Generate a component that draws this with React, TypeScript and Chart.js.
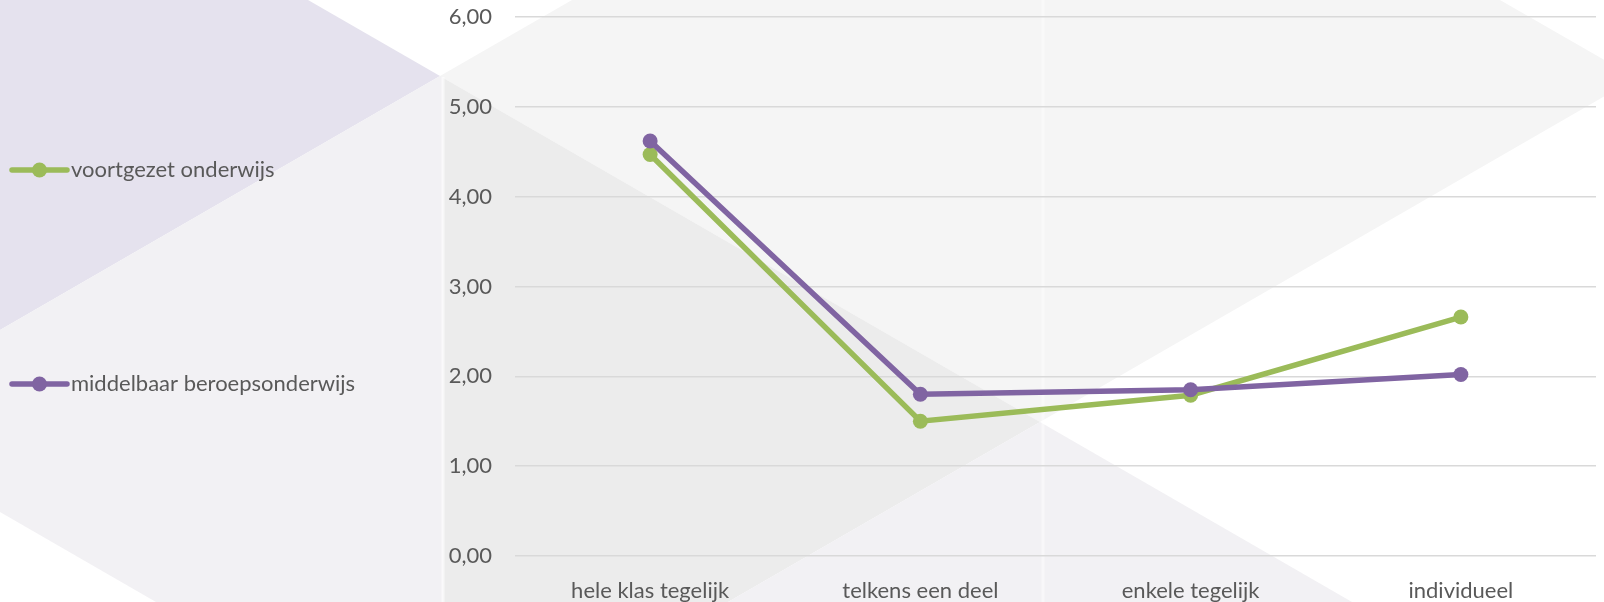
import React, { useEffect, useRef } from 'react';
import { Chart, registerables } from 'chart.js';

Chart.register(...registerables);

const categories = ['hele klas tegelijk', 'telkens een deel', 'enkele tegelijk', 'individueel'];
const voortgezetOnderwijs = [4.47, 1.5, 1.79, 2.66];
const middelbaarBeroepsonderwijs = [4.62, 1.8, 1.85, 2.02];
const seriesLabels = ['voortgezet onderwijs', 'middelbaar beroepsonderwijs'];
const seriesColors = ['#9bbb59', '#8064a2'];
const yMin = 0;
const yMax = 6;
const yStep = 1;

const FONT = 'Lato, "Open Sans", sans-serif';
const TEXT = '#595959';

const backgroundPlugin = {
  id: 'officeBackground',
  beforeDraw(chart: any) {
    const { ctx, width, height } = chart;
    const poly = (pts: number[][], color: string) => {
      ctx.beginPath();
      ctx.moveTo(pts[0][0], pts[0][1]);
      for (let i = 1; i < pts.length; i++) ctx.lineTo(pts[i][0], pts[i][1]);
      ctx.closePath();
      ctx.fillStyle = color;
      ctx.fill();
    };
    ctx.save();
    ctx.fillStyle = '#ffffff';
    ctx.fillRect(0, 0, width, height);
    poly([[0, 0], [308, 0], [440, 76], [0, 330]], '#e5e2ee');
    poly([[0, 330], [440, 76], [443, 76], [443, height], [156, height], [0, 512]], '#f2f1f4');
    poly([[440, 76], [572, 0], [1500, 0], [1636, 78], [1040, 422]], '#f5f5f5');
    poly([[443, 77.7], [1040, 422], [728, height], [443, height]], '#ececec');
    poly([[728, height], [1040, 422], [1352, height]], '#f2f1f4');
    ctx.strokeStyle = 'rgba(255,255,255,0.6)';
    ctx.lineWidth = 3;
    ctx.beginPath();
    ctx.moveTo(443, 77);
    ctx.lineTo(443, height);
    ctx.stroke();
    ctx.strokeStyle = 'rgba(255,255,255,0.45)';
    ctx.beginPath();
    ctx.moveTo(1043, 0);
    ctx.lineTo(1043, height);
    ctx.stroke();
    ctx.restore();
  },
};

const legendPlugin = {
  id: 'excelLegend',
  afterDraw(chart: any, _args: any, opts: any) {
    const { ctx } = chart;
    ctx.save();
    chart.data.datasets.forEach((ds: any, i: number) => {
      const y = opts.rows[i];
      ctx.strokeStyle = ds.borderColor;
      ctx.lineWidth = 5.5;
      ctx.lineCap = 'round';
      ctx.beginPath();
      ctx.moveTo(opts.lineStart, y);
      ctx.lineTo(opts.lineEnd, y);
      ctx.stroke();
      ctx.fillStyle = ds.borderColor;
      ctx.beginPath();
      ctx.arc((opts.lineStart + opts.lineEnd) / 2, y, 7.5, 0, Math.PI * 2);
      ctx.fill();
      ctx.fillStyle = TEXT;
      ctx.font = `22px ${FONT}`;
      ctx.textBaseline = 'middle';
      ctx.textAlign = 'left';
      ctx.fillText(ds.label, opts.textX, y);
    });
    ctx.restore();
  },
};

export default function App() {
  const ref = useRef<HTMLCanvasElement | null>(null);
  useEffect(() => {
    document.body.style.margin = '0';
    const canvas = ref.current;
    if (!canvas) return;
    const chart = new Chart(canvas, {
      type: 'line',
      data: {
        labels: categories,
        datasets: [
          {
            label: seriesLabels[0],
            data: voortgezetOnderwijs,
            borderColor: seriesColors[0],
            backgroundColor: seriesColors[0],
            borderWidth: 5.5,
            pointRadius: 7.5,
            pointBorderWidth: 0,
            pointBackgroundColor: seriesColors[0],
            tension: 0,
            order: 1,
          },
          {
            label: seriesLabels[1],
            data: middelbaarBeroepsonderwijs,
            borderColor: seriesColors[1],
            backgroundColor: seriesColors[1],
            borderWidth: 5.5,
            pointRadius: 7.5,
            pointBorderWidth: 0,
            pointBackgroundColor: seriesColors[1],
            tension: 0,
            order: 0,
          },
        ],
      },
      options: {
        animation: false,
        responsive: false,
        layout: { padding: { left: 415, right: 8, top: 17, bottom: 0 } },
        plugins: {
          legend: { display: false },
          tooltip: { enabled: false },
          excelLegend: { rows: [170, 384], lineStart: 12, lineEnd: 67, textX: 71 },
        } as any,
        scales: {
          x: {
            offset: true,
            grid: { display: false },
            border: { display: false },
            ticks: { color: TEXT, font: { family: FONT, size: 22 }, padding: 14, maxRotation: 0 },
            afterFit: (scale: any) => {
              scale.height = 46;
            },
          },
          y: {
            min: yMin,
            max: yMax,
            grid: { color: '#d9d9d9', lineWidth: 1.5, drawTicks: false },
            border: { display: false },
            ticks: {
              stepSize: yStep,
              color: TEXT,
              font: { family: FONT, size: 22 },
              padding: 23,
              callback: (v: any) => Number(v).toFixed(2).replace('.', ','),
            },
            afterFit: (scale: any) => {
              scale.width = 100;
              scale.paddingTop = 0;
              scale.paddingBottom = 0;
            },
          },
        },
      },
      plugins: [backgroundPlugin, legendPlugin],
    });
    return () => chart.destroy();
  }, []);
  return (
    <div style={{ width: 1604, height: 602 }}>
      <canvas ref={ref} width={1604} height={602} style={{ display: 'block' }} />
    </div>
  );
}
